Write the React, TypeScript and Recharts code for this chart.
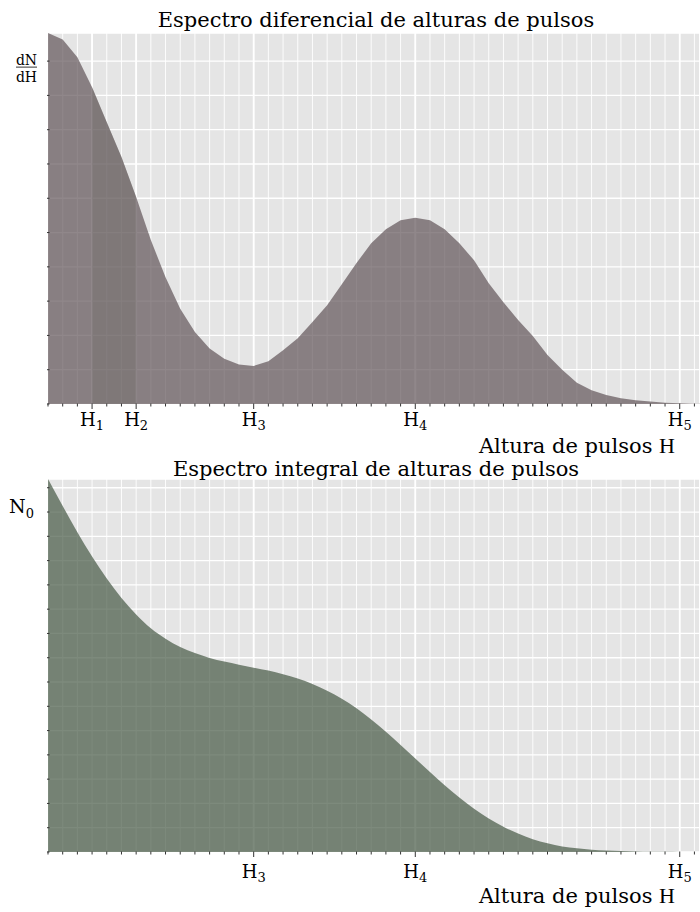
import React from 'react';
import { AreaChart, Area, XAxis, YAxis, CartesianGrid } from 'recharts';

// Pulse height (grid units) sampled at each integer
const xValues = [
  0, 1, 2, 3, 4, 5, 6, 7, 8, 9, 10, 11, 12, 13, 14, 15, 16, 17, 18, 19, 20, 21, 22,
  23, 24, 25, 26, 27, 28, 29, 30, 31, 32, 33, 34, 35, 36, 37, 38, 39, 40, 41, 42, 43, 44, 45,
];

// Differential spectrum dN/dH
const diffValues = [
  10.82, 10.63, 10.11, 9.24, 8.22, 7.2, 6.04, 4.78, 3.7, 2.78,
  2.1, 1.62, 1.32, 1.15, 1.11, 1.25, 1.57, 1.92, 2.39, 2.88,
  3.49, 4.11, 4.69, 5.1, 5.36, 5.43, 5.36, 5.1, 4.69, 4.19,
  3.52, 2.97, 2.45, 1.98, 1.43, 1.0, 0.62, 0.4, 0.26, 0.17,
  0.11, 0.07, 0.04, 0.02, 0.01, 0.01,
];

// Integral spectrum N(H)
const intValues = [
  15.36, 14.25, 13.17, 12.17, 11.26, 10.46, 9.78, 9.21, 8.78, 8.44,
  8.19, 7.99, 7.84, 7.71, 7.59, 7.47, 7.32, 7.14, 6.92, 6.64,
  6.31, 5.92, 5.46, 4.95, 4.41, 3.85, 3.29, 2.75, 2.24, 1.78,
  1.38, 1.04, 0.76, 0.53, 0.36, 0.23, 0.15, 0.09, 0.06, 0.04,
  0.02, 0.01, 0.01, 0.005, 0.002, 0.001,
];

// Shaded window H1..H2
const bandRange = [3, 6];

// Labelled tick positions and subscripts
const hPositions = [3, 6, 14, 25, 43];
const hSubscripts = ['1', '2', '3', '4', '5'];
const bottomLabelled = [14, 25, 43];

const xMax = 44.38;
const xTicks = xValues.filter((v) => v <= 44);
const topYTicks = [0, 1, 2, 3, 4, 5, 6, 7, 8, 9, 10];
const bottomYTicks = [0, 1, 2, 3, 4, 5, 6, 7, 8, 9, 10, 11, 12, 13, 14, 15];
const topYLabelValue = 10;
const bottomYLabelValue = 14;

const diffData = xValues.map((x, i) => ({
  x,
  diff: diffValues[i],
  band: x >= bandRange[0] && x <= bandRange[1] ? diffValues[i] : null,
}));
const intData = xValues.map((x, i) => ({ x, integ: intValues[i] }));

const FONT = 'DejaVu Serif';
const INK = '#000';
const TICK = '#333';
const BG = '#E5E5E5';

const makeXTick = (labelled: number[], labelDy: number) => (props: any) => {
  const { x, y, payload } = props;
  const v = payload.value;
  const idx = hPositions.indexOf(v);
  const isMajor = labelled.indexOf(v) >= 0;
  return (
    <g>
      <line x1={x} x2={x} y1={y - 0.5} y2={y + (isMajor ? 5 : 2.5)} stroke={TICK} strokeWidth={1} />
      {isMajor && (
        <text x={x} y={y + labelDy} textAnchor="middle" fontFamily={FONT} fontSize={18} fill={INK}>
          H
          <tspan dy={4} fontSize={13}>
            {hSubscripts[idx]}
          </tspan>
        </text>
      )}
    </g>
  );
};

const TopYTick = (props: any) => {
  const { x, y, payload } = props;
  return (
    <g>
      <line x1={x - 1} x2={x + 1.5} y1={y} y2={y} stroke={TICK} strokeWidth={1} />
      {payload.value === topYLabelValue && (
        <g>
          <text x={x - 21.5} y={y + 4.3} textAnchor="middle" fontFamily={FONT} fontSize={14} fill={INK}>
            dN
          </text>
          <line x1={x - 32} x2={x - 11} y1={y + 6} y2={y + 6} stroke={INK} strokeWidth={0.8} />
          <text x={x - 21.5} y={y + 21} textAnchor="middle" fontFamily={FONT} fontSize={14} fill={INK}>
            dH
          </text>
        </g>
      )}
    </g>
  );
};

const BottomYTick = (props: any) => {
  const { x, y, payload } = props;
  return (
    <g>
      <line x1={x - 1} x2={x + 1.5} y1={y} y2={y} stroke={TICK} strokeWidth={1} />
      {payload.value === bottomYLabelValue && (
        <text x={x - 14} y={y + 0.5} textAnchor="end" fontFamily={FONT} fontSize={19} fill={INK}>
          N
          <tspan dy={5} fontSize={13}>
            0
          </tspan>
        </text>
      )}
    </g>
  );
};

const topMax = Math.max(...diffValues);
const bottomMax = Math.max(...intValues);

export default function App() {
  return (
    <div style={{ position: 'absolute', left: 0, top: 0, width: 700, height: 912, background: '#fff', overflow: 'hidden' }}>
      <div style={{ position: 'absolute', left: 0, top: 0 }}>
        <AreaChart width={700} height={456} data={diffData} margin={{ top: 33, right: 0, bottom: 0, left: 0 }}>
          <XAxis
            dataKey="x"
            type="number"
            domain={[0, xMax]}
            allowDataOverflow
            ticks={xTicks}
            interval={0}
            height={52}
            axisLine={false}
            tickLine={false}
            tickSize={0}
            tickMargin={0}
            tick={makeXTick(hPositions, 21.5)}
          />
          <XAxis xAxisId="major" dataKey="x" type="number" domain={[0, xMax]} allowDataOverflow ticks={hPositions} interval={0} hide />
          <YAxis
            type="number"
            domain={[0, topMax]}
            allowDataOverflow
            ticks={topYTicks}
            interval={0}
            width={48}
            axisLine={false}
            tickLine={false}
            tickSize={0}
            tickMargin={0}
            tick={TopYTick}
          />
          <CartesianGrid fill={BG} fillOpacity={1} stroke="#fff" strokeWidth={1.3} vertical={false} />
          <CartesianGrid stroke="#fff" strokeWidth={0.9} horizontal={false} />
          <CartesianGrid xAxisId="major" stroke="#fff" strokeWidth={1.8} horizontal={false} />
          <Area type="linear" dataKey="diff" stroke="none" fill="#615458" fillOpacity={0.7} isAnimationActive={false} />
          <Area type="linear" dataKey="band" stroke="none" fill="#64645A" fillOpacity={0.25} isAnimationActive={false} />
        </AreaChart>
      </div>
      <div style={{ position: 'absolute', left: 0, top: 456 }}>
        <AreaChart width={700} height={456} data={intData} margin={{ top: 23, right: 0, bottom: 0, left: 0 }}>
          <XAxis
            dataKey="x"
            type="number"
            domain={[0, xMax]}
            allowDataOverflow
            ticks={xTicks}
            interval={0}
            height={60}
            axisLine={false}
            tickLine={false}
            tickSize={0}
            tickMargin={0}
            tick={makeXTick(bottomLabelled, 26)}
          />
          <XAxis xAxisId="major" dataKey="x" type="number" domain={[0, xMax]} allowDataOverflow ticks={bottomLabelled} interval={0} hide />
          <YAxis
            type="number"
            domain={[0, bottomMax]}
            allowDataOverflow
            ticks={bottomYTicks}
            interval={0}
            width={48}
            axisLine={false}
            tickLine={false}
            tickSize={0}
            tickMargin={0}
            tick={BottomYTick}
          />
          <CartesianGrid fill={BG} fillOpacity={1} stroke="#fff" strokeWidth={1.3} vertical={false} />
          <CartesianGrid stroke="#fff" strokeWidth={0.9} horizontal={false} />
          <CartesianGrid xAxisId="major" stroke="#fff" strokeWidth={1.8} horizontal={false} />
          <Area type="monotone" dataKey="integ" stroke="none" fill="#465844" fillOpacity={0.7} isAnimationActive={false} />
        </AreaChart>
      </div>
      <svg width={700} height={912} style={{ position: 'absolute', left: 0, top: 0, pointerEvents: 'none' }}>
        <text x={376} y={27} textAnchor="middle" fontFamily={FONT} fontSize={21} fill={INK}>
          Espectro diferencial de alturas de pulsos
        </text>
        <text x={675} y={452.5} textAnchor="end" fontFamily={FONT} fontSize={21} fill={INK}>
          Altura de pulsos <tspan fontFamily="Liberation Serif" fontSize={22}>H</tspan>
        </text>
        <text x={376} y={476} textAnchor="middle" fontFamily={FONT} fontSize={21} fill={INK}>
          Espectro integral de alturas de pulsos
        </text>
        <text x={675} y={902.5} textAnchor="end" fontFamily={FONT} fontSize={21} fill={INK}>
          Altura de pulsos <tspan fontFamily="Liberation Serif" fontSize={22}>H</tspan>
        </text>
      </svg>
    </div>
  );
}
